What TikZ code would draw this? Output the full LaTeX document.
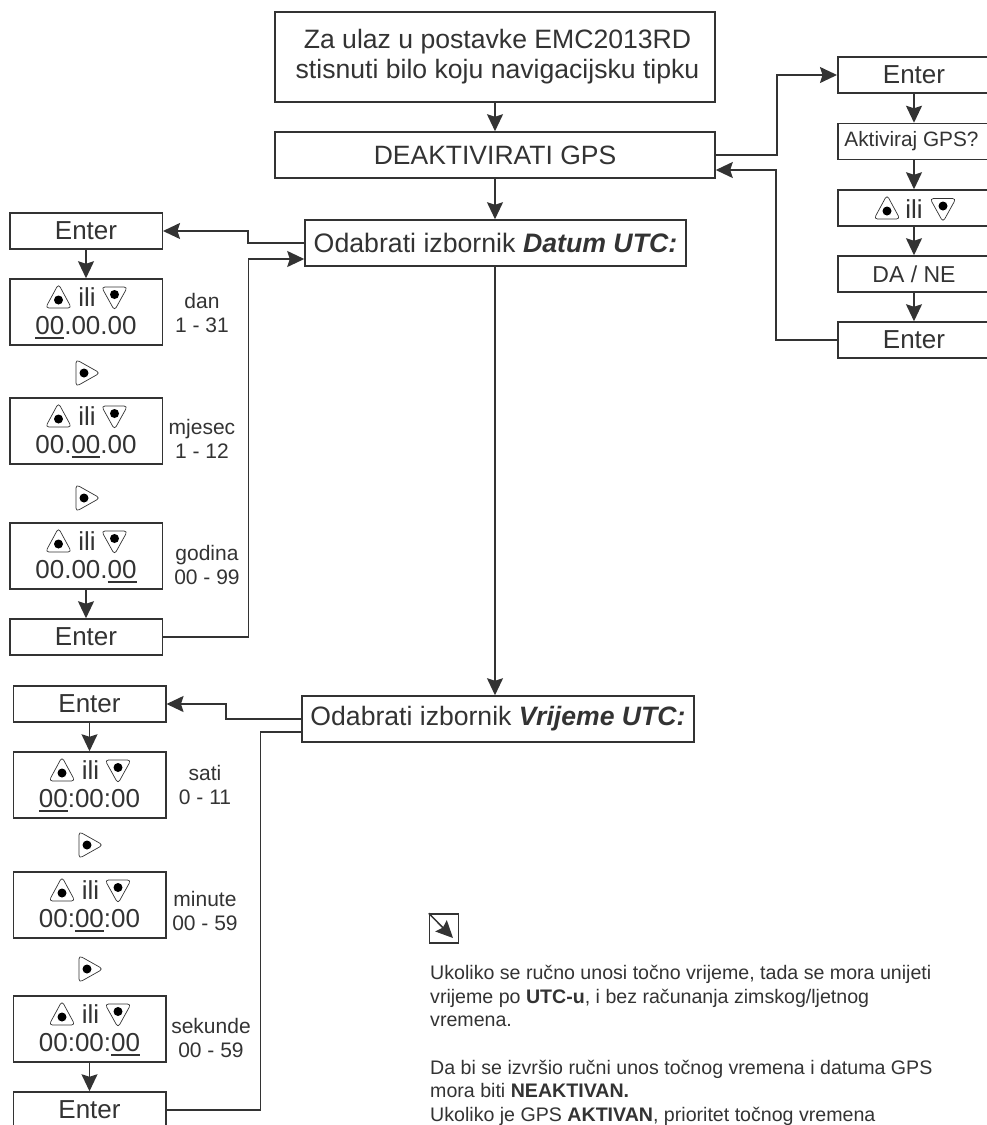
\documentclass[tikz,border=0pt]{standalone}
\usepackage{fontspec}
\setmainfont{Liberation Sans}
\usetikzlibrary{arrows.meta}
\definecolor{ink}{HTML}{333333}
\newcommand\ulnum[1]{\setbox0\hbox{#1}\rlap{\rule[-4.5pt]{\wd0}{1.6pt}}\box0 }
\newcommand\fs[2]{\fontsize{#1}{#2}\selectfont}
\tikzset{
  flowbox/.style={draw=ink,line width=1.5pt,fill=white,inner sep=0pt,text=ink,font=\fs{26}{30},align=center},
  small box/.style={flowbox,minimum width=152.5pt,minimum height=36pt},
  val box/.style={flowbox,minimum width=152.5pt,minimum height=66pt},
  bigtext/.style={inner sep=0pt,text=ink,font=\fs{26}{30}},
  sidetext/.style={inner sep=0pt,text=ink,font=\fs{21}{24},align=center},
  conn/.style={draw=ink,line width=1.5pt},
  arr/.style={conn,-{Stealth[length=17pt,width=16pt,inset=2.5pt]}},
  upkey/.pic={\draw[ink,line width=0.7pt,fill=white,rounded corners=3.5pt] (0,-16)--(13,8)--(-13,8)--cycle;\fill[black] (0,0) circle (4.5);},
  downkey/.pic={\draw[ink,line width=0.7pt,fill=white,rounded corners=3.5pt] (0,16)--(13,-7.5)--(-13,-7.5)--cycle;\fill[black] (0,0) circle (4.5);},
  rightkey/.pic={\draw[ink,line width=0.7pt,fill=white,rounded corners=3.5pt] (-8,-13.5)--(16,0)--(-8,13.5)--cycle;\fill[black] (0,0) circle (4.5);},
}
\newcommand\valuebox[4]{%
  \node[val box] (#1) at (#2,#3+33) {};
  \node[bigtext,anchor=base] (#1i) at (#2+1,#3+27) {ili};
  \node[bigtext,anchor=base] (#1d) at (#2,#3+55) {#4};
  \pic at (#2-27.5,#3+21) {upkey};
  \pic at (#2+28.5,#3+15.5) {downkey};
}
\begin{document}
\begin{tikzpicture}[x=1pt,y=-1pt]
\useasboundingbox (0,0) rectangle (986,1125);
% main column
\node[flowbox,minimum width=440pt,minimum height=90pt,font=\fs{26.6}{30}] (start) at (495,57) {\hspace{5pt}Za ulaz u postavke EMC2013RD\\\hspace{5pt}stisnuti bilo koju navigacijsku tipku};
\node[flowbox,minimum width=440pt,minimum height=46pt,font=\fs{26.5}{30}] (gps) at (495,155) {DEAKTIVIRATI GPS};
\node[flowbox,minimum width=381pt,minimum height=46pt,font=\fs{26.7}{30}] (datum) at (495.5,243) {Odabrati izbornik \textbf{\textit{Datum UTC:}}};
\node[flowbox,minimum width=392pt,minimum height=46pt,font=\fs{26.6}{30}] (vrijeme) at (498,719) {Odabrati izbornik \textbf{\textit{Vrijeme UTC:}}};
% right column
\node[small box] (renter) at (914,75) {Enter};
\node[small box,font=\fs{20.8}{24}] (rakt) at (914,141.5) {\hspace{-5pt}Aktiviraj GPS?};
\node[small box] (rkeys) at (914,208) {};
\node[bigtext,anchor=base] (rili) at (914,218) {ili};
\pic at (887,211) {upkey};
\pic at (943,206) {downkey};
\node[small box,font=\fs{23}{26}] (rda) at (914,274) {DA / NE};
\node[small box] (rend) at (914,340) {Enter};
% date column
\node[small box] (denter) at (86,231) {Enter};
\valuebox{dday}{86}{279}{\ulnum{00}.00.00}
\pic at (84,373) {rightkey};
\valuebox{dmon}{86}{398}{00.\ulnum{00}.00}
\pic at (84,498) {rightkey};
\valuebox{dyear}{86}{523}{00.00.\ulnum{00}}
\node[small box] (dend) at (86,637) {Enter};
\node[sidetext] (ldan) at (202,313) {dan\\1 - 31};
\node[sidetext] (lmon) at (202,439) {mjesec\\1 - 12};
\node[sidetext] (lyear) at (207,565) {godina\\00 - 99};
% time column
\node[small box] (tenter) at (89.5,704) {Enter};
\valuebox{thour}{89.5}{752}{\ulnum{00}:00:00}
\pic at (87,845) {rightkey};
\valuebox{tmin}{89.5}{872}{00:\ulnum{00}:00}
\pic at (87,969) {rightkey};
\valuebox{tsec}{89.5}{996}{00:00:\ulnum{00}}
\node[small box] (tend) at (89.5,1110) {Enter};
\node[sidetext] (lhour) at (205,785) {sati\\0 - 11};
\node[sidetext] (lminu) at (205,911) {minute\\00 - 59};
\node[sidetext] (lsec) at (211,1038) {sekunde\\00 - 59};
% note
\node[draw=ink,line width=1.5pt,minimum size=29pt,inner sep=0pt] (note) at (444,928.5) {};
\coordinate (notetip) at (453,938);
\draw[arr] (note.north west) -- (notetip);
\node[inner sep=0pt,anchor=north west,align=left,text=ink,font=\fs{19.6}{23.7}] (notetext) at (430,965) {Ukoliko se ručno unosi točno vrijeme, tada se mora unijeti\\
vrijeme po \textbf{UTC-u}, i bez računanja zimskog/ljetnog\\
vremena.\\[23.7pt]
Da bi se izvršio ručni unos točnog vremena i datuma GPS\\
mora biti \textbf{NEAKTIVAN.}\\
Ukoliko je GPS \textbf{AKTIVAN}, prioritet točnog vremena};
% connectors, main column
\draw[arr] (start.south) -- (gps.north);
\draw[arr] (gps.south) -- (gps.south |- datum.north);
\draw[arr] (gps.south |- datum.south) -- (gps.south |- vrijeme.north);
% right column
\coordinate (ro) at (777,155);
\coordinate (ri) at (776,170);
\draw[arr] (gps.east |- ro) -- (ro) |- (renter.west);
\draw[arr] (rend.west) -| (ri) -- (gps.east |- ri);
\draw[arr] (renter.south) -- (rakt.north);
\draw[arr] (rakt.south) -- (rkeys.north);
\draw[arr] (rkeys.south) -- (rda.north);
\draw[arr] (rda.south) -- (rend.north);
% date column
\coordinate (do) at (248,243);
\coordinate (di) at (248.5,259);
\draw[arr] (datum.west |- do) -- (do) |- (denter.east);
\draw[arr] (dend.east) -| (di) -- (datum.west |- di);
\draw[arr] (denter.south) -- (dday.north);
\draw[arr] (dyear.south) -- (dend.north);
% time column
\coordinate (to) at (226,719);
\coordinate (ti) at (260.5,732);
\draw[arr] (vrijeme.west |- to) -- (to) |- (tenter.east);
\draw[conn] (tend.east) -| (ti) -- (vrijeme.west |- ti);
\draw[arr] (tenter.south) -- (thour.north);
\draw[arr] (tsec.south) -- (tend.north);
\end{tikzpicture}
\end{document}
